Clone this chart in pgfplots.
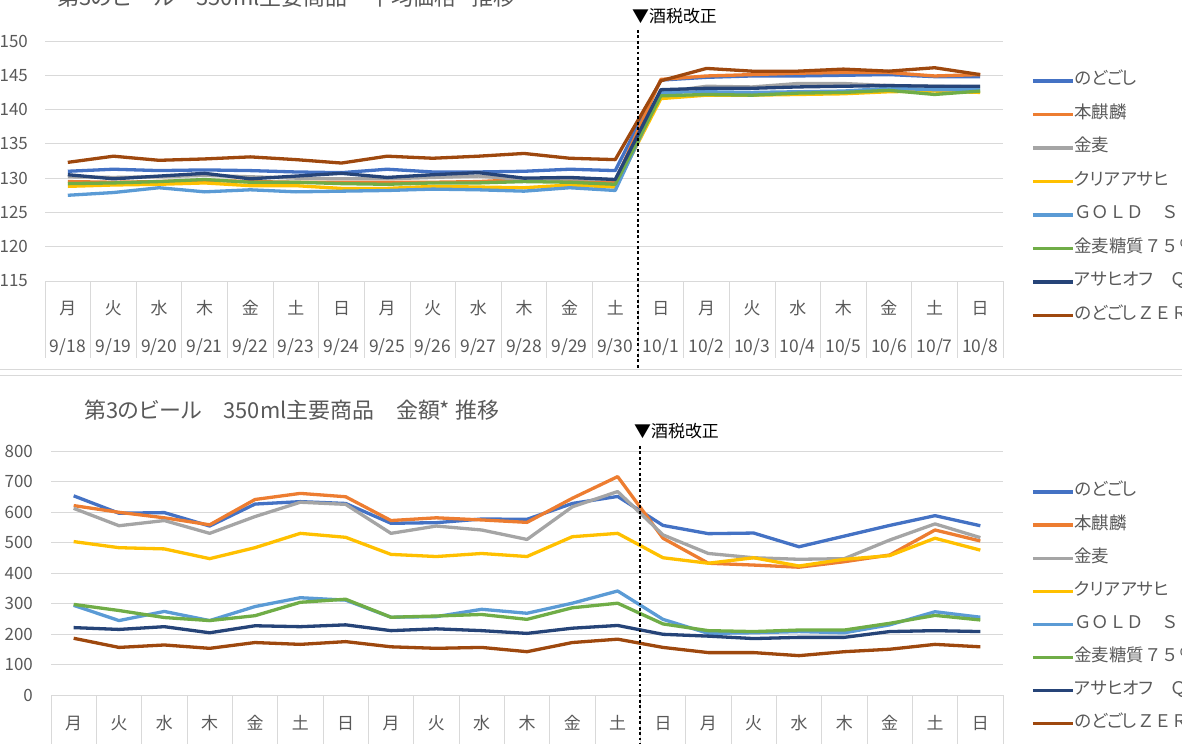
\documentclass[border=0pt]{standalone}
\usepackage{fontspec}
\setmainfont{Noto Sans CJK JP}[RawFeature=+palt]
\newfontfamily\jpf{Noto Sans CJK JP}
\usepackage{pgfplots}
\usepackage{pgfplotstable}
\pgfplotsset{compat=1.18}
\definecolor{gridc}{HTML}{D9D9D9}
\definecolor{labc}{HTML}{595959}
\definecolor{c1}{HTML}{4472C4}
\definecolor{c2}{HTML}{ED7D31}
\definecolor{c3}{HTML}{A5A5A5}
\definecolor{c4}{HTML}{FFC000}
\definecolor{c5}{HTML}{5B9BD5}
\definecolor{c6}{HTML}{70AD47}
\definecolor{c7}{HTML}{264478}
\definecolor{c8}{HTML}{9E480E}

\pgfplotstableread{
x a b c d e f g h
0 131.0 129.5 130.2 128.8 127.5 129.2 130.5 132.3
1 131.3 129.4 130.1 129.0 127.9 129.3 129.9 133.2
2 131.1 129.5 130.2 129.1 128.6 129.5 130.3 132.6
3 131.2 129.7 130.4 129.3 128.0 129.8 130.7 132.8
4 131.1 129.5 130.2 128.9 128.3 129.4 129.9 133.1
5 130.9 129.4 130.0 128.9 128.0 129.4 130.3 132.7
6 130.8 129.4 129.9 128.5 128.1 129.2 130.7 132.2
7 131.3 129.4 129.9 128.5 128.2 129.1 130.1 133.2
8 130.9 129.4 130.1 128.8 128.4 129.3 130.5 132.9
9 130.9 129.5 130.3 128.7 128.3 129.3 130.8 133.2
10 131.0 129.8 129.8 128.6 128.1 129.5 130.0 133.6
11 131.3 129.7 129.9 129.0 128.6 129.4 130.1 132.9
12 131.1 129.5 129.8 128.7 128.2 129.1 129.8 132.7
13 144.3 144.4 142.5 141.6 142.5 142.0 142.9 144.2
14 144.7 144.9 143.4 142.1 142.6 142.2 143.1 146.0
15 144.9 145.1 143.3 142.1 142.5 142.1 143.1 145.6
16 144.9 145.3 143.8 142.2 142.6 142.4 143.3 145.6
17 145.0 145.4 143.8 142.3 142.7 142.5 143.4 145.9
18 145.1 145.4 143.5 142.6 143.1 142.8 143.5 145.6
19 144.8 144.9 143.4 142.7 142.9 142.2 143.4 146.1
20 144.8 145.1 143.3 142.5 142.9 142.7 143.4 145.1
}\toptable

\pgfplotstableread{
x a b c d e f g h
0 653 621 612 503 294 297 221 186
1 596 599 555 483 244 277 215 156
2 598 581 572 479 274 254 224 164
3 554 558 530 447 244 244 204 153
4 626 641 585 483 290 260 227 172
5 634 661 632 530 319 304 224 166
6 628 650 625 517 311 314 230 175
7 563 572 530 461 255 255 211 158
8 565 581 554 454 257 259 217 153
9 577 574 541 464 281 264 211 156
10 576 566 510 454 268 248 202 142
11 628 645 617 519 301 286 219 172
12 651 716 667 530 341 301 228 183
13 556 514 525 450 248 233 199 156
14 529 432 464 432 202 211 193 139
15 531 426 450 450 204 208 185 139
16 486 419 445 423 208 213 189 129
17 521 437 447 445 204 213 189 142
18 556 459 508 457 230 235 208 150
19 588 541 561 514 273 261 211 166
20 555 505 516 475 255 246 208 158
}\bottable

\pgfplotsset{
  myax/.style={
    scale only axis,
    xmin=-0.5, xmax=20.5,
    xtick={0,...,20},
    minor xtick={-0.5,0.5,...,20.5},
    major tick length=0pt,
    tick align=outside,
    minor tick style={draw=gridc, line width=0.75bp},
    axis x line*=bottom,
    axis y line*=left,
    y axis line style={draw=none},
    x axis line style={draw=gridc, line width=0.75bp, -},
    ytick style={draw=none},
    ymajorgrids,
    grid style={draw=gridc, line width=0.75bp},
    ticklabel style={font=\fontsize{17}{18}\selectfont, text=labc},
    yticklabel style={inner sep=0pt, anchor=east},
    xticklabel style={inner sep=0pt, anchor=base, yshift=-34bp},
    xticklabels={月,火,水,木,金,土,日,月,火,水,木,金,土,日,月,火,水,木,金,土,日},
    /pgf/number format/assume math mode=true,
    every axis plot/.append style={line width=3.3bp, no markers, line join=round},
    legend cell align=left,
    legend image code/.code={\draw[##1] (0bp,0bp) -- (40bp,0bp);},
  },
}

\begin{document}
\begin{tikzpicture}
\useasboundingbox (0bp,0bp) rectangle (1182bp,744bp);

% separators between the two charts
\draw[gridc, line width=1bp] (0bp,374bp) -- (1182bp,374bp);
\draw[gridc, line width=1bp] (0bp,368bp) -- (1182bp,368bp);

% ---------- top chart ----------
\begin{axis}[myax,
  at={(45bp,463bp)}, anchor=south west,
  width=958bp, height=240bp,
  ymin=115, ymax=150, ytick={115,120,...,150},
  minor tick length=77bp,
  yticklabel style={xshift=-17bp},
  extra x ticks={0,...,20},
  extra x tick labels={9/18,9/19,9/20,9/21,9/22,9/23,9/24,9/25,9/26,9/27,9/28,9/29,9/30,10/1,10/2,10/3,10/4,10/5,10/6,10/7,10/8},
  extra x tick style={xticklabel style={yshift=-38bp, font=\fontsize{17.5}{18}\selectfont}},
  legend style={draw=none, fill=none, at={(1.0292,0.8675)}, anchor=north west,
    inner sep=0pt, row sep=17.5bp,
    font=\fontsize{17.5}{18}\selectfont, text=labc,
    nodes={inner sep=0pt, text height=12bp, text depth=4bp},
    /tikz/every even column/.style={column sep=3bp}},
]
\addplot[c1] table[x=x,y=a] {\toptable};
\addlegendentry{のどごし}
\addplot[c2] table[x=x,y=b] {\toptable};
\addlegendentry{本麒麟}
\addplot[c3] table[x=x,y=c] {\toptable};
\addlegendentry{金麦}
\addplot[c4] table[x=x,y=d] {\toptable};
\addlegendentry{クリアアサヒ}
\addplot[c5] table[x=x,y=e] {\toptable};
\addlegendentry{{\jpf ＧＯＬＤ　ＳＴＡＲ}}
\addplot[c6] table[x=x,y=f] {\toptable};
\addlegendentry{金麦糖質{\jpf ７５％}オフ}
\addplot[c7] table[x=x,y=g] {\toptable};
\addlegendentry{アサヒオフ{\jpf 　Ｑ缶}}
\addplot[c8] table[x=x,y=h] {\toptable};
\addlegendentry{のどごし{\jpf ＺＥＲＯ}}
\end{axis}

% ---------- bottom chart ----------
\begin{axis}[myax,
  at={(51bp,49bp)}, anchor=south west,
  width=952bp, height=244bp,
  ymin=0, ymax=800, ytick={0,100,...,800},
  minor tick length=60bp,
  yticklabel style={xshift=-18bp},
  legend style={draw=none, fill=none, at={(1.0294,0.8656)}, anchor=north west,
    inner sep=0pt, row sep=17.1bp,
    font=\fontsize{17.5}{18}\selectfont, text=labc,
    nodes={inner sep=0pt, text height=12bp, text depth=4bp},
    /tikz/every even column/.style={column sep=3bp}},
]
\addplot[c1] table[x=x,y=a] {\bottable};
\addlegendentry{のどごし}
\addplot[c2] table[x=x,y=b] {\bottable};
\addlegendentry{本麒麟}
\addplot[c3] table[x=x,y=c] {\bottable};
\addlegendentry{金麦}
\addplot[c4] table[x=x,y=d] {\bottable};
\addlegendentry{クリアアサヒ}
\addplot[c5] table[x=x,y=e] {\bottable};
\addlegendentry{{\jpf ＧＯＬＤ　ＳＴＡＲ}}
\addplot[c6] table[x=x,y=f] {\bottable};
\addlegendentry{金麦糖質{\jpf ７５％}オフ}
\addplot[c7] table[x=x,y=g] {\bottable};
\addlegendentry{アサヒオフ{\jpf 　Ｑ缶}}
\addplot[c8] table[x=x,y=h] {\bottable};
\addlegendentry{のどごし{\jpf ＺＥＲＯ}}
\end{axis}

% tax-change markers
\draw[black, line width=2.8bp, dash pattern=on 2.8bp off 2.6bp] (638bp,714bp) -- (638bp,374bp);
\draw[black, line width=2.8bp, dash pattern=on 2.8bp off 2.6bp] (640bp,298bp) -- (640bp,0bp);
\node[anchor=base west, inner sep=0pt, font=\fontsize{17}{18}\selectfont] at (632bp,721bp) {▼酒税改正};
\node[anchor=base west, inner sep=0pt, font=\fontsize{17}{18}\selectfont] at (634bp,306bp) {▼酒税改正};

% titles
\node[anchor=base west, inner sep=0pt, text=labc, font=\fontsize{22}{24}\selectfont] at (57bp,738bp) {第3のビール　350ml主要商品　平均価格* 推移};
\node[anchor=base west, inner sep=0pt, text=labc, font=\fontsize{22}{24}\selectfont] at (84bp,325bp) {第3のビール　350ml主要商品　金額* 推移};
\end{tikzpicture}
\end{document}
